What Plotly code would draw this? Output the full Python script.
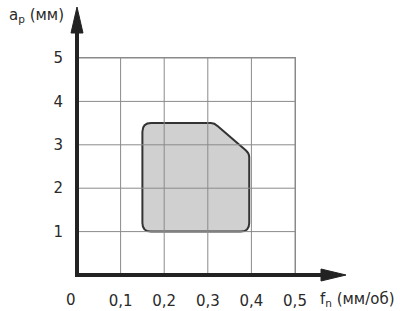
import plotly.graph_objects as go

# --- data ---
x_ticks = [0.1, 0.2, 0.3, 0.4, 0.5]
x_tick_labels = ["0,1", "0,2", "0,3", "0,4", "0,5"]
y_ticks = [1, 2, 3, 4, 5]
y_tick_labels = ["1", "2", "3", "4", "5"]
x_title = "f<sub>n</sub> (мм/об)"
y_title = "a<sub>p</sub> (мм)"
# region boundary: left, right, bottom, top, chamfer start x (top edge), chamfer end y (right edge)
region_x = [0.15, 0.395]
region_y = [1.0, 3.5]
chamfer = [0.315, 2.8]

W, H = 400, 311
L, R, T, B = 77, 105, 58, 36
pw, ph = W - L - R, H - T - B

def px(xp):
    return (xp - L) / pw

def py(yp):
    return (H - B - yp) / ph

fig = go.Figure()
fig.add_trace(go.Scatter(x=[0], y=[0], mode="markers", marker=dict(opacity=0), showlegend=False, hoverinfo="skip"))

# rounded region path
x0, x1 = region_x
y0, y1 = region_y
cx, cy = chamfer
rx, ry = 0.02, 0.2
srx, sry = 0.008, 0.08
path = (
    f"M {x0+rx},{y0} L {x1-rx},{y0} Q {x1},{y0} {x1},{y0+ry} "
    f"L {x1},{cy-sry} Q {x1},{cy} {x1-srx},{cy+sry*0.9} "
    f"L {cx+srx},{y1-sry*0.9} Q {cx},{y1} {cx-srx},{y1} "
    f"L {x0+rx},{y1} Q {x0},{y1} {x0},{y1-ry} "
    f"L {x0},{y0+ry} Q {x0},{y0} {x0+rx},{y0} Z"
)
shapes = [dict(type="path", path=path, xref="x", yref="y", layer="below",
               fillcolor="rgba(120,120,120,0.35)", line=dict(color="#333333", width=2))]

gridc = "#8a8a8a"
for xv in x_ticks:
    shapes.append(dict(type="line", xref="x", yref="paper", x0=xv, x1=xv, y0=0, y1=1,
                       line=dict(color=gridc, width=1), layer="above"))
for yv in y_ticks:
    shapes.append(dict(type="line", xref="paper", yref="y", x0=0, x1=1, y0=yv, y1=yv,
                       line=dict(color=gridc, width=1), layer="above"))

axc = "#222222"
# axes lines and arrowheads (paper coords)
shapes.append(dict(type="line", xref="paper", yref="paper", x0=px(75), x1=px(325), y0=py(275), y1=py(275),
                   line=dict(color=axc, width=4), layer="above"))
shapes.append(dict(type="line", xref="paper", yref="paper", x0=px(77), x1=px(77), y0=py(277), y1=py(28),
                   line=dict(color=axc, width=4), layer="above"))
shapes.append(dict(type="path", xref="paper", yref="paper",
                   path=f"M {px(77)},{py(7)} L {px(71)},{py(33)} L {px(83)},{py(33)} Z",
                   fillcolor=axc, line=dict(color=axc, width=1), layer="above"))
shapes.append(dict(type="path", xref="paper", yref="paper",
                   path=f"M {px(346)},{py(275)} L {px(321)},{py(269)} L {px(321)},{py(281)} Z",
                   fillcolor=axc, line=dict(color=axc, width=1), layer="above"))

font = dict(family="DejaVu Sans, Verdana, sans-serif", size=15, color="#2a2a2a")
annotations = [
    dict(text=y_title, xref="paper", yref="paper", x=px(7), y=py(15), xanchor="left", yanchor="middle",
         showarrow=False, font=font),
    dict(text=x_title, xref="paper", yref="paper", x=px(318), y=py(299), xanchor="left", yanchor="middle",
         showarrow=False, font=font),
    dict(text="0", xref="paper", yref="paper", x=px(71), y=py(300), xanchor="center", yanchor="middle",
         showarrow=False, font=font),
]

fig.update_layout(
    width=W, height=H,
    margin=dict(l=L, r=R, t=T, b=B, pad=0, autoexpand=False),
    paper_bgcolor="white", plot_bgcolor="white",
    showlegend=False,
    shapes=shapes, annotations=annotations,
    font=font,
    xaxis=dict(range=[0, 0.5], tickvals=x_ticks, ticktext=x_tick_labels, showgrid=False,
               zeroline=False, showline=True, mirror=True, automargin=False,
               linecolor=gridc, linewidth=1, ticks="outside", ticklen=12,
               tickcolor="rgba(0,0,0,0)", tickfont=font, fixedrange=True),
    yaxis=dict(range=[0, 5], tickvals=y_ticks, ticktext=y_tick_labels, showgrid=False,
               zeroline=False, showline=True, mirror=True, automargin=False,
               linecolor=gridc, linewidth=1, ticks="outside", ticklen=10,
               tickcolor="rgba(0,0,0,0)", tickfont=font, fixedrange=True),
)

fig.write_html("out.html")
